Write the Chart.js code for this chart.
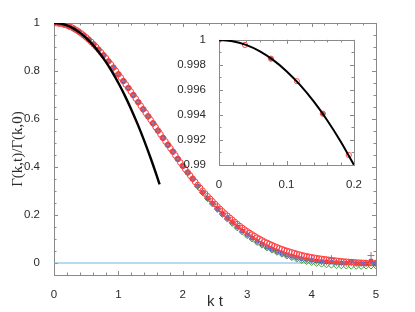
<!DOCTYPE html>
<html lang="en">

<head>
    <meta charset="UTF-8">
    <script src="https://cdn.jsdelivr.net/npm/chart.js"></script>
    <title>Gamma(k,t)</title>
    <style>
        body { margin: 0; background: #ffffff; }
        #wrap { position: relative; width: 415px; height: 312px; }
        #insetChart { position: absolute; left: 170px; top: 28px; }
    </style>
</head>

<body>
    <div id="wrap">
        <canvas id="mainChart" width="415" height="312"></canvas>
        <canvas id="insetChart" width="200" height="162"></canvas>
    </div>
</body>

</html>

<script>
    // sampling step of the simulation data (k t)
    const ktStep = 5 / 130

    // red circles, every step
    const redCircles = [
        1, 0.9996, 0.9985, 0.9967, 0.9941, 0.9908, 0.9868, 0.9821, 0.9767, 0.9706,
        0.9639, 0.9566, 0.9486, 0.9400, 0.9309, 0.9212, 0.9110, 0.9003, 0.8891, 0.8775,
        0.8655, 0.8531, 0.8404, 0.8273, 0.8140, 0.8003, 0.7865, 0.7724, 0.7581, 0.7437,
        0.7292, 0.7145, 0.6998, 0.6850, 0.6702, 0.6554, 0.6406, 0.6259, 0.6112, 0.5966,
        0.5821, 0.5666, 0.5513, 0.5362, 0.5213, 0.5066, 0.4921, 0.4779, 0.4640, 0.4485,
        0.4335, 0.4188, 0.4045, 0.3906, 0.3770, 0.3638, 0.3510, 0.3378, 0.3251, 0.3128,
        0.3009, 0.2893, 0.2782, 0.2674, 0.2569, 0.2459, 0.2354, 0.2252, 0.2154, 0.2060,
        0.1970, 0.1883, 0.1800, 0.1710, 0.1624, 0.1542, 0.1464, 0.1390, 0.1319, 0.1252,
        0.1188, 0.1121, 0.1058, 0.0999, 0.0942, 0.0889, 0.0839, 0.0791, 0.0747, 0.0700,
        0.0656, 0.0615, 0.0576, 0.0540, 0.0506, 0.0474, 0.0444, 0.0411, 0.0381, 0.0353,
        0.0326, 0.0302, 0.0280, 0.0259, 0.0240, 0.0221, 0.0203, 0.0187, 0.0172, 0.0158,
        0.0145, 0.0132, 0.0119, 0.0106, 0.0094, 0.0083, 0.0072, 0.0062, 0.0053, 0.0044,
        0.0036, 0.0029, 0.0022, 0.0016, 0.0010, 0.0005, 0.0001, -0.0003, -0.0006, -0.0009, -0.0012
    ]

    // blue squares, green diamonds, plus signs: every second step
    const blueSquares = [
        1, 0.9985, 0.9941, 0.9868, 0.9767, 0.9639, 0.9486, 0.9309, 0.9110, 0.8891,
        0.8655, 0.8404, 0.8140, 0.7865, 0.7581, 0.7292, 0.6998, 0.6702, 0.6406, 0.6112,
        0.5821, 0.5513, 0.5213, 0.4921, 0.4640, 0.4335, 0.4045, 0.3770, 0.3510, 0.3201,
        0.2939, 0.2702, 0.2489, 0.2264, 0.2054, 0.1860, 0.1690, 0.1504, 0.1334, 0.1179,
        0.1038, 0.0898, 0.0772, 0.0659, 0.0567, 0.0476, 0.0396, 0.0326, 0.0274, 0.0221,
        0.0176, 0.0140, 0.0110, 0.0083, 0.0062, 0.0045, 0.0029, 0.0014, 0.0002, -0.0007,
        0.0080, -0.0018, -0.0020, -0.0019, 0.0090, -0.0012
    ]
    const greenDiamonds = [
        1, 0.9985, 0.9941, 0.9868, 0.9767, 0.9639, 0.9486, 0.9309, 0.9110, 0.8891,
        0.8655, 0.8404, 0.8140, 0.7865, 0.7581, 0.7292, 0.6998, 0.6702, 0.6406, 0.6112,
        0.5821, 0.5513, 0.5213, 0.4921, 0.4640, 0.4335, 0.4045, 0.3770, 0.3510, 0.3201,
        0.2929, 0.2682, 0.2459, 0.2234, 0.2024, 0.1830, 0.1650, 0.1464, 0.1294, 0.1139,
        0.0998, 0.0858, 0.0742, 0.0629, 0.0537, 0.0446, 0.0366, 0.0286, 0.0224, 0.0161,
        0.0106, 0.0060, 0.0020, -0.0017, -0.0048, -0.0075, -0.0091, -0.0106, -0.0118, -0.0127,
        -0.0134, -0.0138, -0.0140, -0.0129, -0.0126, -0.0122
    ]
    const plusMarks = [
        1, 0.9985, 0.9941, 0.9868, 0.9767, 0.9639, 0.9486, 0.9309, 0.9110, 0.8891,
        0.8655, 0.8404, 0.8140, 0.7865, 0.7581, 0.7292, 0.6998, 0.6702, 0.6406, 0.6112,
        0.5821, 0.5513, 0.5213, 0.4921, 0.4640, 0.4335, 0.4045, 0.3770, 0.3510, 0.3201,
        0.2939, 0.2702, 0.2489, 0.2264, 0.2054, 0.1860, 0.1690, 0.1504, 0.1334, 0.1179,
        0.1038, 0.0898, 0.0772, 0.0659, 0.0567, 0.0476, 0.0396, 0.0326, 0.0274, 0.0221,
        0.0176, 0.0140, 0.0110, 0.0083, 0.0062, 0.0045, 0.0180, 0.0014, 0.0002, -0.0007,
        0.0010, -0.0018, -0.0020, -0.0019, 0.0310, -0.0012
    ]

    // short time expansion (black line)
    const shortTimeKt = [0, 0.1, 0.2, 0.3, 0.4, 0.5, 0.6, 0.7, 0.8, 0.9, 1.0, 1.1, 1.2, 1.3, 1.4, 1.5, 1.6, 1.64]
    const shortTimeVal = [1, 0.9975, 0.99, 0.9775, 0.96, 0.9375, 0.91, 0.8775, 0.84, 0.7975, 0.75, 0.6975, 0.64, 0.5775, 0.51, 0.4375, 0.36, 0.3276]
    const insetKt = [0, 0.02, 0.04, 0.06, 0.08, 0.1, 0.12, 0.14, 0.16, 0.18, 0.2]
    const insetVal = [1, 0.9999, 0.9996, 0.9991, 0.9984, 0.9975, 0.9964, 0.9951, 0.9936, 0.9919, 0.99]

    const zeroKt = [0, 5]
    const zeroVal = [0, 0]

    const xTicks = [0, 1, 2, 3, 4, 5]
    const xTickLabels = ['0', '1', '2', '3', '4', '5']
    const yTicks = [0, 0.2, 0.4, 0.6, 0.8, 1]
    const yTickLabels = ['0', '0.2', '0.4', '0.6', '0.8', '1']
    const insetXTicks = [0, 0.1, 0.2]
    const insetXLabels = ['0', '0.1', '0.2']
    const insetYTicks = [0.99, 0.992, 0.994, 0.996, 0.998, 1]
    const insetYLabels = ['0.99', '0.992', '0.994', '0.996', '0.998', '1']

    function pontos(vals, step) {
        return vals.map((v, i) => ({ x: i * step, y: v }))
    }
    function pares(xs, ys) {
        return xs.map((x, i) => ({ x: x, y: ys[i] }))
    }
    function listaTicks(from, to, step) {
        const out = []
        for (let n = 0; from + n * step <= to + step / 2; n++) out.push(from + n * step)
        return out
    }

    // frame on all four sides with inward ticks
    function caixa(xMajor, xMinor, yMajor, yMinor) {
        return {
            id: 'caixa',
            beforeDatasetsDraw(chart) {
                const { ctx, chartArea: a, scales: { x, y } } = chart
                ctx.save()
                ctx.strokeStyle = '#8a8a8a'
                ctx.lineWidth = 1
                ctx.strokeRect(Math.round(a.left) + 0.5, Math.round(a.top) + 0.5,
                    Math.round(a.right - a.left), Math.round(a.bottom - a.top))
                ctx.beginPath()
                const tx = (v, len) => {
                    const p = Math.round(x.getPixelForValue(v)) + 0.5
                    ctx.moveTo(p, a.bottom); ctx.lineTo(p, a.bottom - len)
                    ctx.moveTo(p, a.top); ctx.lineTo(p, a.top + len)
                }
                const ty = (v, len) => {
                    const p = Math.round(y.getPixelForValue(v)) + 0.5
                    ctx.moveTo(a.left, p); ctx.lineTo(a.left + len, p)
                    ctx.moveTo(a.right, p); ctx.lineTo(a.right - len, p)
                }
                xMinor.forEach(v => tx(v, 2.5))
                xMajor.forEach(v => tx(v, 4))
                yMinor.forEach(v => ty(v, 2.5))
                yMajor.forEach(v => ty(v, 4))
                ctx.stroke()
                ctx.restore()
            }
        }
    }

    const fonteTicks = { family: 'Liberation Sans', size: 11.5 }
    const corTexto = '#2b2b2b'

    new Chart(mainChart, {
        type: 'scatter',
        data: {
            datasets: [
                {
                    data: pares(shortTimeKt, shortTimeVal), showLine: true, borderColor: '#000000',
                    borderWidth: 2.4, pointRadius: 0, cubicInterpolationMode: 'monotone'
                },
                {
                    data: pontos(redCircles, ktStep), pointStyle: 'circle', pointRadius: 2.8,
                    borderColor: '#ff3b3b', backgroundColor: 'rgba(0,0,0,0)', borderWidth: 1
                },
                {
                    data: pontos(plusMarks, 2 * ktStep), pointStyle: 'cross', pointRadius: 3.5,
                    borderColor: '#a4708a', borderWidth: 1
                },
                {
                    data: pontos(blueSquares, 2 * ktStep), pointStyle: 'rect', pointRadius: 2.2,
                    borderColor: '#3b55c4', backgroundColor: 'rgba(70,90,200,0.55)', borderWidth: 1
                },
                {
                    data: pontos(greenDiamonds, 2 * ktStep), pointStyle: 'rectRot', pointRadius: 3,
                    borderColor: '#3ea23e', backgroundColor: 'rgba(0,0,0,0)', borderWidth: 1
                },
                {
                    data: pares(zeroKt, zeroVal), showLine: true, borderColor: '#72b3e0',
                    borderWidth: 1, pointRadius: 0
                }
            ]
        },
        options: {
            responsive: false,
            animation: false,
            events: [],
            layout: { padding: { top: 23, right: 39, left: 0, bottom: 0 } },
            plugins: { legend: { display: false }, tooltip: { enabled: false } },
            scales: {
                x: {
                    type: 'linear', min: 0, max: 5,
                    afterFit: s => { s.height = 37 },
                    afterBuildTicks: s => { s.ticks = xTicks.map(v => ({ value: v })) },
                    grid: { display: false }, border: { display: false },
                    ticks: { padding: 5, color: corTexto, font: fonteTicks, maxRotation: 0, callback: (v, i) => xTickLabels[i] },
                    title: {
                        display: true, text: 'k t', color: corTexto, padding: { top: 0, bottom: 1 },
                        font: { family: 'Liberation Sans', size: 15 }
                    }
                },
                y: {
                    type: 'linear', min: -0.05, max: 1,
                    afterFit: s => { s.width = 54 },
                    afterBuildTicks: s => { s.ticks = yTicks.map(v => ({ value: v })) },
                    grid: { display: false }, border: { display: false },
                    ticks: { padding: 6, color: corTexto, font: fonteTicks, callback: (v, i) => yTickLabels[i] },
                    title: {
                        display: true, text: 'Γ(k,t)/Γ(k,0)', color: corTexto, padding: { top: 9, bottom: 0 },
                        font: { family: 'Liberation Serif', size: 15 }
                    }
                }
            }
        },
        plugins: [caixa(xTicks, listaTicks(0, 5, 0.2), yTicks, listaTicks(-0.05, 1, 0.05))]
    });

    new Chart(insetChart, {
        type: 'scatter',
        data: {
            datasets: [
                {
                    data: pares(insetKt, insetVal), showLine: true, borderColor: '#000000',
                    borderWidth: 2, pointRadius: 0, cubicInterpolationMode: 'monotone'
                },
                {
                    data: pontos(redCircles.slice(0, 6), ktStep), pointStyle: 'circle', pointRadius: 2.6,
                    borderColor: '#ff4a4a', backgroundColor: 'rgba(0,0,0,0)', borderWidth: 1
                },
                {
                    data: pontos(plusMarks.slice(0, 3), 2 * ktStep), pointStyle: 'cross', pointRadius: 2.5,
                    borderColor: '#a4708a', borderWidth: 1
                },
                {
                    data: pontos(blueSquares.slice(0, 3), 2 * ktStep), pointStyle: 'rect', pointRadius: 1.8,
                    borderColor: '#3b55c4', backgroundColor: 'rgba(70,90,200,0.55)', borderWidth: 1
                },
                {
                    data: pontos(greenDiamonds.slice(0, 3), 2 * ktStep), pointStyle: 'rectRot', pointRadius: 2.4,
                    borderColor: '#3ea23e', backgroundColor: 'rgba(0,0,0,0)', borderWidth: 1
                }
            ]
        },
        options: {
            responsive: false,
            animation: false,
            events: [],
            layout: { padding: { top: 10, right: 16, left: 0, bottom: 0 } },
            plugins: { legend: { display: false }, tooltip: { enabled: false } },
            scales: {
                x: {
                    type: 'linear', min: 0, max: 0.2,
                    afterFit: s => { s.height = 25 },
                    afterBuildTicks: s => { s.ticks = insetXTicks.map(v => ({ value: v })) },
                    grid: { display: false }, border: { display: false },
                    ticks: { padding: 5, color: corTexto, font: fonteTicks, maxRotation: 0, callback: (v, i) => insetXLabels[i] }
                },
                y: {
                    type: 'linear', min: 0.99, max: 1,
                    afterFit: s => { s.width = 49 },
                    afterBuildTicks: s => { s.ticks = insetYTicks.map(v => ({ value: v })) },
                    grid: { display: false }, border: { display: false },
                    ticks: { padding: 5, color: corTexto, font: fonteTicks, callback: (v, i) => insetYLabels[i] }
                }
            }
        },
        plugins: [caixa(insetXTicks, listaTicks(0, 0.2, 0.02), insetYTicks, listaTicks(0.99, 1, 0.001))]
    });
</script>
